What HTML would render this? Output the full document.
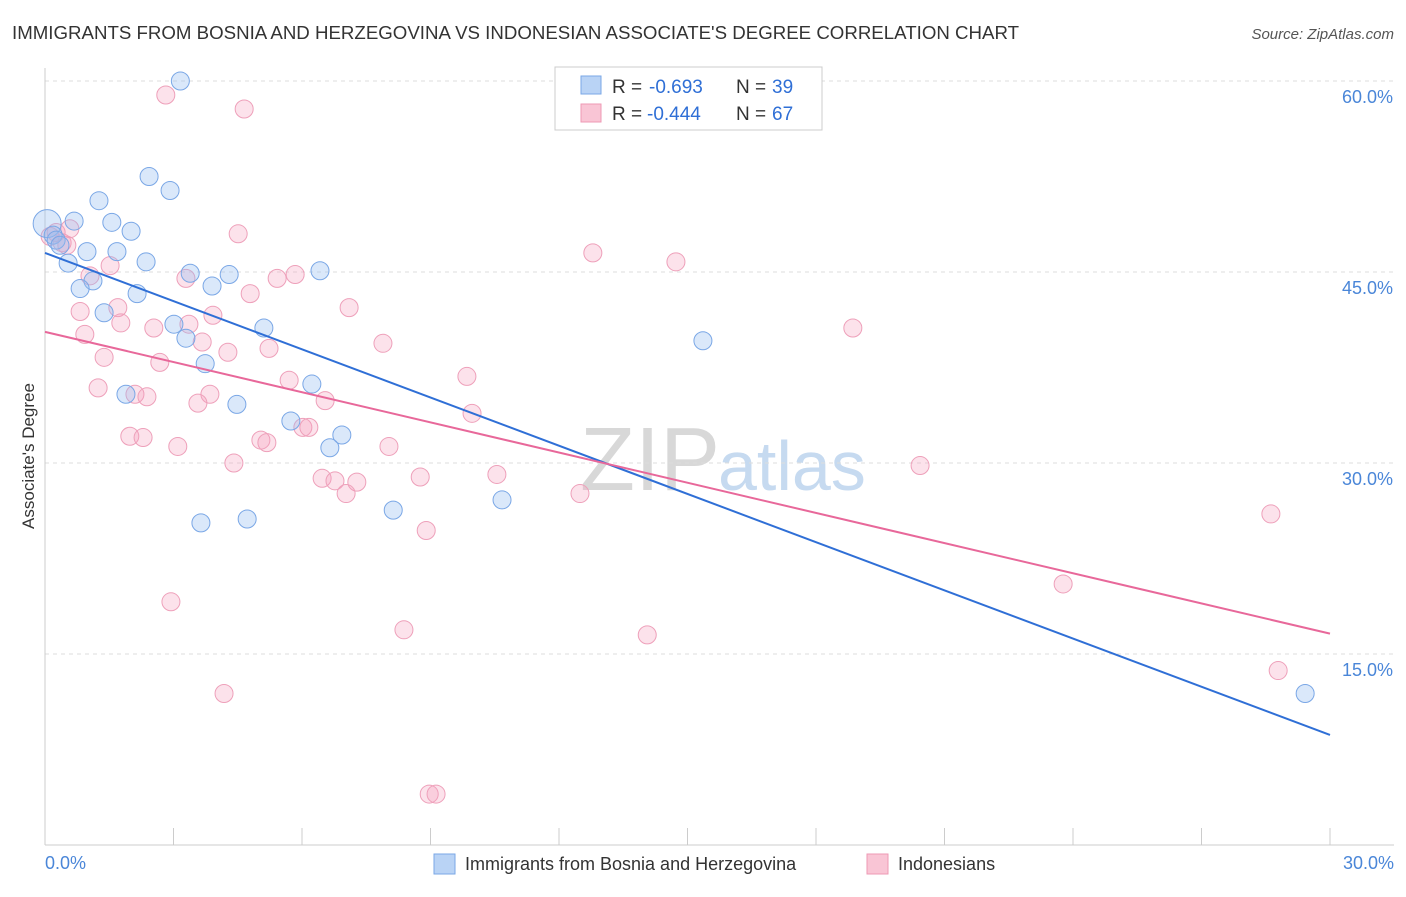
<!DOCTYPE html>
<html><head><meta charset="utf-8"><style>
body{margin:0;background:#fff;font-family:"Liberation Sans",sans-serif;}
svg text{font-family:"Liberation Sans",sans-serif;}
</style></head><body>
<svg id="c" width="1406" height="892">
<text x="12" y="39" font-size="18" fill="#333" textLength="1007" lengthAdjust="spacingAndGlyphs">IMMIGRANTS FROM BOSNIA AND HERZEGOVINA VS INDONESIAN ASSOCIATE'S DEGREE CORRELATION CHART</text>
<text x="1394" y="39" font-size="15" fill="#555" text-anchor="end" font-style="italic">Source: ZipAtlas.com</text>
<text x="34" y="456" font-size="17" fill="#333" text-anchor="middle" transform="rotate(-90 34 456)">Associate's Degree</text>
<text x="720" y="490" font-size="90" fill="#d8d8d8" text-anchor="end" font-family="Liberation Serif">ZIP</text>
<text x="718" y="490" font-size="70" fill="#c6daf0">atlas</text>
<g id="grid"></g><g id="pts"></g><g id="lines"></g>
<g>
<rect x="555" y="67" width="267" height="63" fill="#fff" stroke="#ccc"/>
<rect x="581" y="76" width="20" height="18" fill="#b9d3f5" stroke="#7aa7e6"/>
<rect x="581" y="104" width="20" height="18" fill="#f9c5d5" stroke="#ee99b4"/>
<text x="612" y="93" font-size="19" fill="#333">R =</text>
<text x="649" y="93" font-size="19" fill="#2f6fd6">-0.693</text>
<text x="736" y="93" font-size="19" fill="#333">N =</text>
<text x="772" y="93" font-size="19" fill="#2f6fd6">39</text>
<text x="612" y="120" font-size="19" fill="#333">R =</text>
<text x="647" y="120" font-size="19" fill="#2f6fd6">-0.444</text>
<text x="736" y="120" font-size="19" fill="#333">N =</text>
<text x="772" y="120" font-size="19" fill="#2f6fd6">67</text>
</g>
<g>
<rect x="434" y="854" width="21" height="20" fill="#b9d3f5" stroke="#7aa7e6"/>
<text x="465" y="870" font-size="18" fill="#333">Immigrants from Bosnia and Herzegovina</text>
<rect x="867" y="854" width="21" height="20" fill="#f9c5d5" stroke="#ee99b4"/>
<text x="898" y="870" font-size="18" fill="#333">Indonesians</text>
</g>
</svg>
<script>
const yTicks=[15,30,45,60];
const yTickLabels=["15.0%","30.0%","45.0%","60.0%"];
const xTicks=[0,3,6,9,12,15,18,21,24,27,30];
const blueX=[3.16,2.43,2.92,1.26,1.56,0.68,2.01,0.05,0.19,0.98,1.68,0.54,2.36,3.39,4.3,6.42,1.12,0.82,2.15,3.9,1.38,3.01,5.11,3.29,3.74,6.23,1.89,4.48,5.74,6.93,6.65,8.13,10.67,3.64,4.72,15.36,29.42,0.26,0.35];
const blueY=[60.0,52.5,51.4,50.6,48.9,49.0,48.2,48.8,47.9,46.6,46.6,45.7,45.8,44.9,44.8,45.1,44.3,43.7,43.3,43.9,41.8,40.9,40.6,39.8,37.8,36.2,35.4,34.6,33.3,32.2,31.2,26.3,27.1,25.3,25.6,39.6,11.9,47.5,47.1];
const pinkX=[2.82,4.65,4.51,12.79,14.73,1.52,3.29,5.42,5.84,1.05,4.79,1.7,0.82,3.92,7.1,18.86,1.77,2.54,3.36,0.93,3.67,5.23,7.89,4.27,1.38,2.68,5.7,9.85,1.24,2.1,2.38,3.85,3.57,6.54,9.97,1.98,2.29,5.04,5.18,6.02,6.16,3.1,8.03,4.41,20.43,10.55,8.76,6.47,6.77,7.28,7.03,12.49,8.9,28.62,23.77,2.94,8.38,14.06,4.18,28.79,8.97,9.13,0.26,0.4,0.58,0.51,0.12];
const pinkY=[58.9,57.8,48.0,46.5,45.8,45.5,44.5,44.5,44.8,44.7,43.3,42.2,41.9,41.6,42.2,40.6,41.0,40.6,40.9,40.1,39.5,39.0,39.4,38.7,38.3,37.9,36.5,36.8,35.9,35.4,35.2,35.4,34.7,34.9,33.9,32.1,32.0,31.8,31.6,32.8,32.8,31.3,31.3,30.0,29.8,29.1,28.9,28.8,28.6,28.5,27.6,27.6,24.7,26.0,20.5,19.1,16.9,16.5,11.9,13.7,4.0,4.0,48.1,47.3,48.4,47.1,47.8];
const fitIntercept=[46.5,40.3];
const fitSlope=[-1.262,-0.79];
const X=v=>45+v*(1285/30), Y=v=>845-v*(191/15);
const NS="http://www.w3.org/2000/svg";
function mk(t,a,p){const e=document.createElementNS(NS,t);for(const k in a)e.setAttribute(k,a[k]);p.appendChild(e);return e;}
const grid=document.getElementById('grid');
yTicks.forEach((v,i)=>{
 const l=mk('line',{x1:45,x2:1394,y1:Y(v),y2:Y(v),stroke:'#ddd','stroke-dasharray':'4,4'},grid);
 
 
 const t=mk('text',{x:1393,y:Y(v)+22,'font-size':18,fill:'#4a86d8','text-anchor':'end'},grid);t.textContent=yTickLabels[i];
 
 
});
mk('line',{x1:45,x2:45,y1:68,y2:845,stroke:'#ccc'},grid);
const ax=mk('line',{x1:45,x2:1394,y1:845,y2:845,stroke:'#ccc'},grid);


xTicks.forEach(v=>{const t=mk('line',{x1:X(v),x2:X(v),y1:828,y2:845,stroke:'#ccc'},grid);
 
 });
let t0=mk('text',{x:45,y:869,'font-size':18,fill:'#4a86d8'},grid);t0.textContent="0.0%";


let t1=mk('text',{x:1394,y:869,'font-size':18,fill:'#4a86d8','text-anchor':'end'},grid);t1.textContent="30.0%";


const pts=document.getElementById('pts');
pinkX.forEach((v,i)=>{const c=mk('circle',{cx:X(v),cy:Y(pinkY[i]),r:9,fill:'rgba(244,160,188,0.3)',stroke:'#eea0ba','stroke-width':1},pts);
 
 });
blueX.forEach((v,i)=>{const c=mk('circle',{cx:X(v),cy:Y(blueY[i]),r:i==7?14:9,fill:'rgba(150,190,240,0.35)',stroke:'#7aa7e6','stroke-width':1},pts);
 
 });
const lines=document.getElementById('lines');
const cols=['#2f6fd6','#e8689a'];
[0,1].forEach(k=>{const l=mk('line',{x1:X(0),y1:Y(fitIntercept[k]),x2:X(30),y2:Y(fitIntercept[k]+30*fitSlope[k]),stroke:cols[k],'stroke-width':2},lines);
 
 });
</script>
</body></html>
